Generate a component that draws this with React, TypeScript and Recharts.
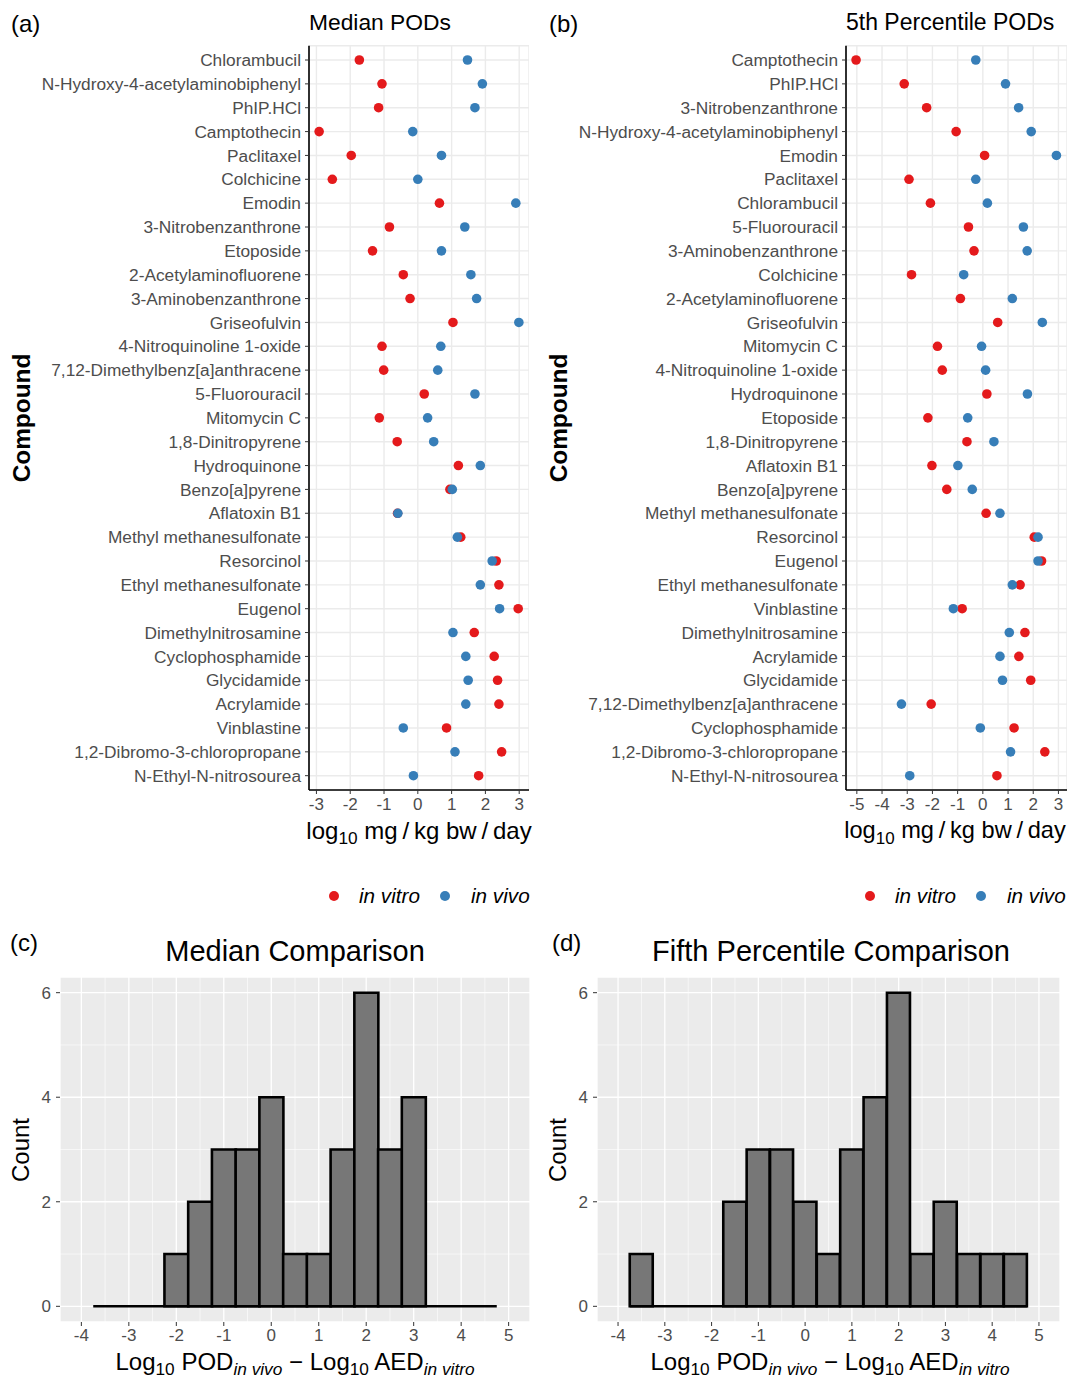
import React from 'react'
import {
  ScatterChart, Scatter, ComposedChart, Bar, XAxis, YAxis, CartesianGrid, ReferenceLine,
} from 'recharts'

// (a) median PODs
const compoundsA = [
  'Chlorambucil', 'N-Hydroxy-4-acetylaminobiphenyl', 'PhIP.HCl', 'Camptothecin', 'Paclitaxel',
  'Colchicine', 'Emodin', '3-Nitrobenzanthrone', 'Etoposide', '2-Acetylaminofluorene',
  '3-Aminobenzanthrone', 'Griseofulvin', '4-Nitroquinoline 1-oxide', '7,12-Dimethylbenz[a]anthracene',
  '5-Fluorouracil', 'Mitomycin C', '1,8-Dinitropyrene', 'Hydroquinone', 'Benzo[a]pyrene',
  'Aflatoxin B1', 'Methyl methanesulfonate', 'Resorcinol', 'Ethyl methanesulfonate', 'Eugenol',
  'Dimethylnitrosamine', 'Cyclophosphamide', 'Glycidamide', 'Acrylamide', 'Vinblastine',
  '1,2-Dibromo-3-chloropropane', 'N-Ethyl-N-nitrosourea',
]
const vitroA = [-1.73, -1.06, -1.16, -2.92, -1.97, -2.53, 0.64, -0.84, -1.34, -0.43, -0.23, 1.04, -1.06, -1.01, 0.19, -1.14, -0.61, 1.2, 0.95, -0.6, 1.27, 2.32, 2.4, 2.97, 1.67, 2.26, 2.36, 2.4, 0.85, 2.48, 1.8]
const vivoA = [1.47, 1.91, 1.69, -0.15, 0.7, 0.0, 2.9, 1.39, 0.7, 1.57, 1.74, 2.99, 0.68, 0.59, 1.69, 0.29, 0.47, 1.85, 1.02, -0.59, 1.17, 2.2, 1.85, 2.42, 1.04, 1.42, 1.49, 1.42, -0.43, 1.1, -0.13]
const ticksA = [-3, -2, -1, 0, 1, 2, 3]

// (b) 5th percentile PODs
const compoundsB = [
  'Camptothecin', 'PhIP.HCl', '3-Nitrobenzanthrone', 'N-Hydroxy-4-acetylaminobiphenyl', 'Emodin',
  'Paclitaxel', 'Chlorambucil', '5-Fluorouracil', '3-Aminobenzanthrone', 'Colchicine',
  '2-Acetylaminofluorene', 'Griseofulvin', 'Mitomycin C', '4-Nitroquinoline 1-oxide', 'Hydroquinone',
  'Etoposide', '1,8-Dinitropyrene', 'Aflatoxin B1', 'Benzo[a]pyrene', 'Methyl methanesulfonate',
  'Resorcinol', 'Eugenol', 'Ethyl methanesulfonate', 'Vinblastine', 'Dimethylnitrosamine',
  'Acrylamide', 'Glycidamide', '7,12-Dimethylbenz[a]anthracene', 'Cyclophosphamide',
  '1,2-Dibromo-3-chloropropane', 'N-Ethyl-N-nitrosourea',
]
const vitroB = [-5.03, -3.12, -2.23, -1.06, 0.07, -2.93, -2.08, -0.57, -0.35, -2.83, -0.89, 0.59, -1.8, -1.61, 0.16, -2.18, -0.63, -2.02, -1.43, 0.13, 2.04, 2.33, 1.48, -0.82, 1.67, 1.43, 1.9, -2.05, 1.24, 2.46, 0.56]
const vivoB = [-0.28, 0.9, 1.42, 1.92, 2.92, -0.28, 0.18, 1.61, 1.76, -0.76, 1.17, 2.36, -0.05, 0.11, 1.77, -0.6, 0.44, -0.99, -0.42, 0.68, 2.19, 2.19, 1.17, -1.17, 1.05, 0.68, 0.78, -3.23, -0.1, 1.1, -2.9]
const ticksB = [-5, -4, -3, -2, -1, 0, 1, 2, 3]

// (c) / (d) histograms, bin width 0.5
const binMids = [-3.5, -3, -2.5, -2, -1.5, -1, -0.5, 0, 0.5, 1, 1.5, 2, 2.5, 3, 3.5, 4, 4.5]
const countsC = [0, 0, 0, 1, 2, 3, 3, 4, 1, 1, 3, 6, 3, 4, 0, 0, 0]
const countsD = [1, 0, 0, 0, 2, 3, 3, 2, 1, 3, 4, 6, 1, 2, 1, 1, 1]
const binWidth = 0.5
const histXDomain: [number, number] = [-4.45, 5.45]
const histYDomain: [number, number] = [-0.3, 6.3]
const histXTicks = [-4, -3, -2, -1, 0, 1, 2, 3, 4, 5]
const histXMinor = [-3.5, -2.5, -1.5, -0.5, 0.5, 1.5, 2.5, 3.5, 4.5]
const histYTicks = [0, 2, 4, 6]
const histYMinor = [1, 3, 5]

const RED = '#E41A1C'
const BLUE = '#377EB8'
const FONT = '"Liberation Sans", Arial, Helvetica, sans-serif'

type TxtProps = {
  x: number
  y: number
  size: number
  anchor?: 'start' | 'middle'
  rotate?: boolean
  bold?: boolean
  italic?: boolean
  color?: string
  children: React.ReactNode
}

function Txt({ x, y, size, anchor = 'start', rotate, bold, italic, color = '#000', children }: TxtProps) {
  const tx = anchor === 'middle' ? '-50%' : '0'
  return (
    <div
      style={{
        position: 'absolute', left: x, top: y, fontSize: size, lineHeight: 1, whiteSpace: 'nowrap',
        fontWeight: bold ? 700 : 400, fontStyle: italic ? 'italic' : 'normal', color,
        transform: `translate(${tx}, -50%)${rotate ? ' rotate(-90deg)' : ''}`,
        transformOrigin: rotate ? 'center' : undefined,
      }}
    >
      {children}
    </div>
  )
}

const sub = (s: string, italic = false) => (
  <span style={{ fontSize: '0.72em', verticalAlign: '-0.3em', fontStyle: italic ? 'italic' : 'normal' }}>{s}</span>
)

const dot = (color: string) => (props: any) => (
  <circle cx={props.cx} cy={props.cy} r={4.8} fill={color} />
)

const unitTitle = <>log{sub('10')} mg{'\u2009'}/{'\u2009'}kg bw{'\u2009'}/{'\u2009'}day</>
const diffTitle = <>Log{sub('10')} POD{sub('in vivo', true)} − Log{sub('10')} AED{sub('in vitro', true)}</>

// minor gridline positions: use the axis scale when handed one, else map through the plot offset
const minorX = ({ xAxis, offset }: any) => histXMinor.map(v =>
  typeof xAxis?.scale === 'function'
    ? xAxis.scale(v)
    : offset.left + ((v - histXDomain[0]) / (histXDomain[1] - histXDomain[0])) * offset.width)
const minorY = ({ yAxis, offset }: any) => histYMinor.map(v =>
  typeof yAxis?.scale === 'function'
    ? yAxis.scale(v)
    : offset.top + ((histYDomain[1] - v) / (histYDomain[1] - histYDomain[0])) * offset.height)

function DotPanel({ left, width, yAxisWidth, domain, ticks, names, vitro, vivo }: {
  left: number; width: number; yAxisWidth: number; domain: [number, number]; ticks: number[]
  names: string[]; vitro: number[]; vivo: number[]
}) {
  const vitroPts = names.map((n, i) => ({ x: vitro[i], y: i, name: n }))
  const vivoPts = names.map((n, i) => ({ x: vivo[i], y: i, name: n }))
  const rows = names.map((_, i) => i)
  return (
    <div style={{ position: 'absolute', left, top: 0 }}>
      <ScatterChart width={width} height={820} margin={{ top: 45.7, right: 0, bottom: 0, left: 0 }}>
        <CartesianGrid stroke="#EBEBEB" strokeWidth={1.4} />
        <XAxis
          type="number" dataKey="x" domain={domain} ticks={ticks} allowDataOverflow height={30}
          axisLine={{ stroke: '#000', strokeWidth: 1.6 }} tickLine={{ stroke: '#333' }} tickSize={4}
          tick={{ fill: '#4D4D4D', fontSize: 17, fontFamily: FONT }} tickMargin={4}
        />
        <YAxis
          type="number" dataKey="y" domain={[-0.6, names.length - 0.4]} ticks={rows} reversed
          interval={0} width={yAxisWidth} tickFormatter={(i: number) => names[i]}
          axisLine={{ stroke: '#000', strokeWidth: 1.6 }} tickLine={{ stroke: '#333' }} tickSize={4}
          tick={{ fill: '#4D4D4D', fontSize: 17.3, fontFamily: FONT }} tickMargin={4}
        />
        <Scatter data={vitroPts} shape={dot(RED)} isAnimationActive={false} />
        <Scatter data={vivoPts} shape={dot(BLUE)} isAnimationActive={false} />
      </ScatterChart>
    </div>
  )
}

function HistPanel({ left, width, yAxisWidth, right, counts }: {
  left: number; width: number; yAxisWidth: number; right: number; counts: number[]
}) {
  const data = binMids.map((m, i) => ({ mid: m, count: counts[i] }))
  const x0 = binMids[0] - binWidth / 2
  const x1 = binMids[binMids.length - 1] + binWidth / 2
  return (
    <div style={{ position: 'absolute', left, top: 960 }}>
      <ComposedChart
        width={width} height={400} data={data} barCategoryGap={0} barGap={0}
        margin={{ top: 17, right, bottom: 8, left: 0 }}
      >
        <CartesianGrid fill="#EBEBEB" stroke="#FFFFFF" strokeWidth={1.3} />
        <CartesianGrid
          stroke="#FFFFFF" strokeWidth={0.6} fill="none"
          verticalCoordinatesGenerator={minorX} horizontalCoordinatesGenerator={minorY}
        />
        <XAxis
          type="number" dataKey="mid" domain={histXDomain} ticks={histXTicks} allowDataOverflow height={30}
          axisLine={false} tickLine={{ stroke: '#333' }} tickSize={4}
          tick={{ fill: '#4D4D4D', fontSize: 17, fontFamily: FONT }} tickMargin={3}
        />
        <YAxis
          type="number" domain={histYDomain} ticks={histYTicks} allowDataOverflow width={yAxisWidth}
          axisLine={false} tickLine={{ stroke: '#333' }} tickSize={4}
          tick={{ fill: '#4D4D4D', fontSize: 17, fontFamily: FONT }} tickMargin={5}
        />
        <Bar dataKey="count" fill="#777777" stroke="#000" strokeWidth={2.6} isAnimationActive={false} />
        <ReferenceLine segment={[{ x: x0, y: 0 }, { x: x1, y: 0 }]} stroke="#000" strokeWidth={2.6} />
      </ComposedChart>
    </div>
  )
}

function Legend({ left }: { left: number }) {
  return (
    <>
      <svg style={{ position: 'absolute', left: left - 6, top: 890 }} width={12} height={12}>
        <circle cx={6} cy={6} r={5} fill={RED} />
      </svg>
      <Txt x={left + 25} y={896} size={20.7} italic>in vitro</Txt>
      <svg style={{ position: 'absolute', left: left + 111 - 6, top: 890 }} width={12} height={12}>
        <circle cx={6} cy={6} r={5} fill={BLUE} />
      </svg>
      <Txt x={left + 137} y={896} size={20.7} italic>in vivo</Txt>
    </>
  )
}

export default function App() {
  return (
    <div style={{ position: 'absolute', left: 0, top: 0, width: 1067, height: 1380, background: '#fff', fontFamily: FONT }}>
      <DotPanel left={0} width={529} yAxisWidth={309} domain={[-3.22, 3.29]} ticks={ticksA}
        names={compoundsA} vitro={vitroA} vivo={vivoA} />
      <DotPanel left={540} width={527} yAxisWidth={306} domain={[-5.43, 3.34]} ticks={ticksB}
        names={compoundsB} vitro={vitroB} vivo={vivoB} />

      <Txt x={11} y={24} size={24}>(a)</Txt>
      <Txt x={309} y={22} size={22.8}>Median PODs</Txt>
      <Txt x={22} y={418} size={24.4} bold rotate anchor="middle">Compound</Txt>
      <Txt x={419} y={833} size={24} anchor="middle">{unitTitle}</Txt>

      <Txt x={549} y={24} size={24}>(b)</Txt>
      <Txt x={846} y={22} size={23}>5th Percentile PODs</Txt>
      <Txt x={559} y={418} size={24.4} bold rotate anchor="middle">Compound</Txt>
      <Txt x={955} y={833} size={23.6} anchor="middle">{unitTitle}</Txt>

      <Legend left={334} />
      <Legend left={870} />

      <Txt x={10} y={943} size={24}>(c)</Txt>
      <Txt x={295} y={951} size={29} anchor="middle">Median Comparison</Txt>
      <Txt x={21} y={1150} size={24} rotate anchor="middle">Count</Txt>
      <Txt x={295} y={1364} size={24} anchor="middle">{diffTitle}</Txt>

      <Txt x={552} y={943} size={24}>(d)</Txt>
      <Txt x={831} y={951} size={29} anchor="middle">Fifth Percentile Comparison</Txt>
      <Txt x={558} y={1150} size={24} rotate anchor="middle">Count</Txt>
      <Txt x={830} y={1364} size={24} anchor="middle">{diffTitle}</Txt>

      <HistPanel left={0} width={540} yAxisWidth={60} right={10} counts={countsC} />
      <HistPanel left={540} width={527} yAxisWidth={57} right={7} counts={countsD} />
    </div>
  )
}
